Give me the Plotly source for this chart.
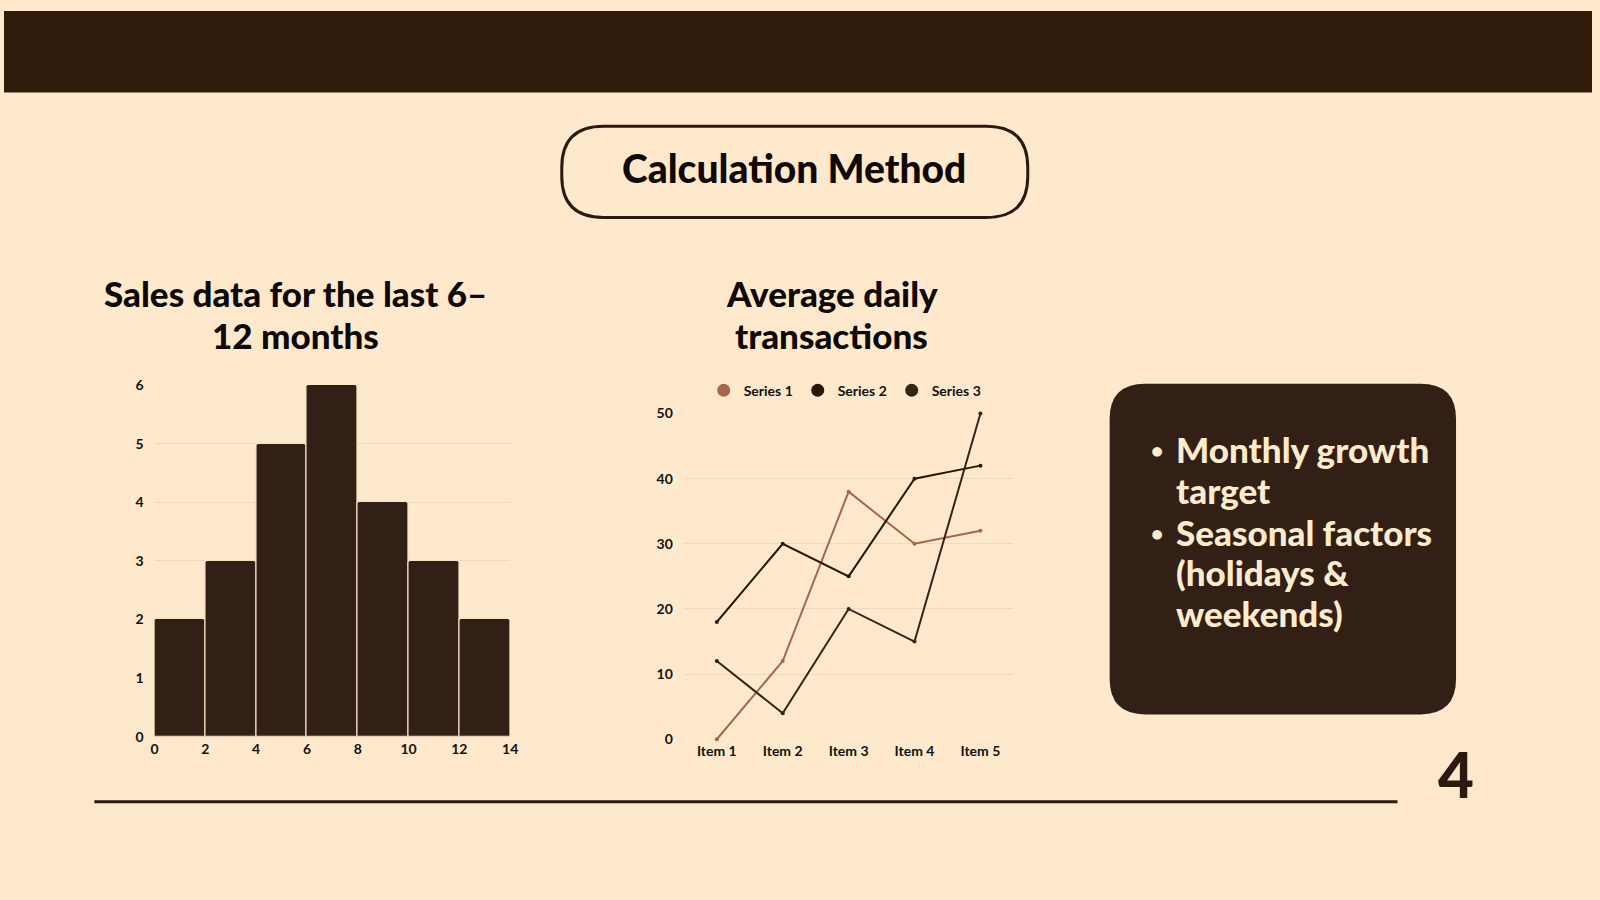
import plotly.graph_objects as go

# ---------------- data ----------------
hist_bin_edges = [0, 2, 4, 6, 8, 10, 12, 14]
hist_counts = [2, 3, 5, 6, 4, 3, 2]

line_items = ["Item 1", "Item 2", "Item 3", "Item 4", "Item 5"]
series1 = [0, 12, 38, 30, 32]
series2 = [18, 30, 25, 40, 42]
series3 = [12, 4, 20, 15, 50]
series_names = ["Series 1", "Series 2", "Series 3"]

slide_title = "Calculation Method"
hist_title = ["Sales data for the last 6–", "12 months"]
line_title = ["Average daily", "transactions"]
bullets = [("•", "Monthly growth"), ("", "target"), ("•", "Seasonal factors"),
           ("", "(holidays &"), ("", "weekends)")]
page_number = "4"

# ---------------- style ----------------
W, H = 1600, 900
BG = "#FEE9CC"
DARK = "#321F15"
HEADER = "#311C0B"
BROWN = "#A3684A"
GRID = "#EFD9BE"
CREAM = "#FDEBCD"
FONT = "Lato"
series_colors = [BROWN, "#2A1608", "#33231A"]

def px(x):
    return x / W

def py(y):
    return 1 - y / H

def rounded_rect(x0, y0, x1, y1, r):
    X0, X1 = px(x0), px(x1)
    Y0, Y1 = py(y0), py(y1)
    rx, ry = r / W, r / H
    return (f"M {X0+rx},{Y0} L {X1-rx},{Y0} Q {X1},{Y0} {X1},{Y0-ry} "
            f"L {X1},{Y1+ry} Q {X1},{Y1} {X1-rx},{Y1} L {X0+rx},{Y1} "
            f"Q {X0},{Y1} {X0},{Y1+ry} L {X0},{Y0-ry} Q {X0},{Y0} {X0+rx},{Y0} Z")

fig = go.Figure()

centers = [(a + b) / 2 for a, b in zip(hist_bin_edges[:-1], hist_bin_edges[1:])]
widths = [b - a for a, b in zip(hist_bin_edges[:-1], hist_bin_edges[1:])]
fig.add_trace(go.Bar(x=centers, y=hist_counts, width=widths,
                     marker=dict(color=DARK, line=dict(color="#F5E1C4", width=1.2),
                                 cornerradius=3),
                     xaxis="x", yaxis="y", showlegend=False, hoverinfo="skip"))

for name, vals, col in zip(series_names, [series1, series2, series3], series_colors):
    fig.add_trace(go.Scatter(x=line_items, y=vals, name=name, mode="lines+markers",
                             line=dict(color=col, width=2),
                             marker=dict(color=col, size=4),
                             xaxis="x2", yaxis="y2", cliponaxis=False, showlegend=False))
for name, col in zip(series_names, series_colors):
    fig.add_trace(go.Scatter(x=[None], y=[None], name=name, mode="markers",
                             marker=dict(color=col, size=13),
                             xaxis="x2", yaxis="y2", showlegend=True))

tickfont = dict(family=FONT, size=14, color="#111111", weight="bold")

fig.update_layout(
    width=W, height=H,
    margin=dict(l=0, r=0, t=0, b=0),
    paper_bgcolor=BG, plot_bgcolor=BG,
    bargap=0,
    xaxis=dict(domain=[px(151.7), px(510)], range=[0, 14], tickvals=hist_bin_edges,
               showgrid=False, zeroline=False, showline=False, tickfont=tickfont,
               ticks="", ticklabelstandoff=2, fixedrange=True),
    yaxis=dict(domain=[py(741.7), py(383.3)], range=[0, 6], dtick=1,
               showgrid=True, gridcolor=GRID, gridwidth=1, zeroline=False,
               tickfont=tickfont, ticks="", ticklabelstandoff=10, fixedrange=True),
    xaxis2=dict(domain=[px(685), px(1017)], range=[-0.5, 4.5], type="category",
                showgrid=False, zeroline=False, showline=False, tickfont=tickfont,
                ticks="", ticklabelstandoff=2, anchor="y2"),
    yaxis2=dict(domain=[py(744.3), py(412.3)], range=[0, 50], dtick=10,
                showgrid=True, gridcolor=GRID, gridwidth=1, zeroline=False,
                tickfont=tickfont, ticks="", ticklabelstandoff=10, anchor="x2"),
    legend=dict(orientation="h", x=px(705), xanchor="left", y=py(389), yanchor="middle",
                font=dict(family=FONT, size=14, color="#111111", weight="bold"),
                bgcolor="rgba(0,0,0,0)", itemsizing="trace", traceorder="normal",
                entrywidth=49, entrywidthmode="pixels", itemwidth=30),
)

shapes = []
shapes.append(dict(type="rect", xref="paper", yref="paper", x0=0, x1=1,
                   y0=py(85), y1=py(2), fillcolor=HEADER, line=dict(width=0), layer="below"))
shapes.append(dict(type="path", xref="paper", yref="paper",
                   path=rounded_rect(562, 119.5, 1031.5, 212.5, 42),
                   fillcolor="rgba(0,0,0,0)", line=dict(color="#2A1A10", width=3)))
shapes.append(dict(type="path", xref="paper", yref="paper",
                   path=rounded_rect(1114, 382, 1463, 719, 36),
                   fillcolor=DARK, line=dict(width=0), layer="below"))
shapes.append(dict(type="line", xref="paper", yref="paper", x0=px(91), x1=px(1404),
                   y0=py(808), y1=py(808), line=dict(color="#2A1A10", width=3)))
fig.update_layout(shapes=shapes)

ann = []
ann.append(dict(text=slide_title, x=px(796), y=py(162), xref="paper", yref="paper",
                showarrow=False, xanchor="center", yanchor="middle",
                font=dict(family=FONT, size=39, color="#0E0906", weight=900)))
for i, t in enumerate(hist_title):
    ann.append(dict(text=t, x=px(294), y=py(289 + 43 * i), xref="paper", yref="paper",
                    showarrow=False, xanchor="center", yanchor="middle",
                    font=dict(family=FONT, size=35, color="#0E0906", weight=900)))
for i, t in enumerate(line_title):
    ann.append(dict(text=t, x=px(834), y=py(289 + 43 * i), xref="paper", yref="paper",
                    showarrow=False, xanchor="center", yanchor="middle",
                    font=dict(family=FONT, size=35, color="#0E0906", weight=900)))
line_ys = [448, 490, 533, 574, 616]
for (b, t), yy in zip(bullets, line_ys):
    if b:
        ann.append(dict(text=b, x=px(1162), y=py(yy + 1), xref="paper", yref="paper",
                        showarrow=False, xanchor="center", yanchor="middle",
                        font=dict(family=FONT, size=21, color=CREAM, weight=900)))
    ann.append(dict(text=t, x=px(1179), y=py(yy), xref="paper", yref="paper",
                    showarrow=False, xanchor="left", yanchor="middle",
                    font=dict(family=FONT, size=35, color=CREAM, weight=900)))
ann.append(dict(text=page_number, x=px(1463), y=py(780), xref="paper", yref="paper",
                showarrow=False, xanchor="center", yanchor="middle",
                font=dict(family=FONT, size=62, color="#2A1A10", weight=900)))
fig.update_layout(annotations=ann)

page_fix = ("}); var s=document.createElement('style');"
            "s.textContent='html,body{margin:0;padding:0;overflow:hidden;background:" + BG + ";}';"
            "document.head.appendChild(s); (function(){")

fig.write_html("out.html", config={"displayModeBar": False}, post_script=page_fix)
